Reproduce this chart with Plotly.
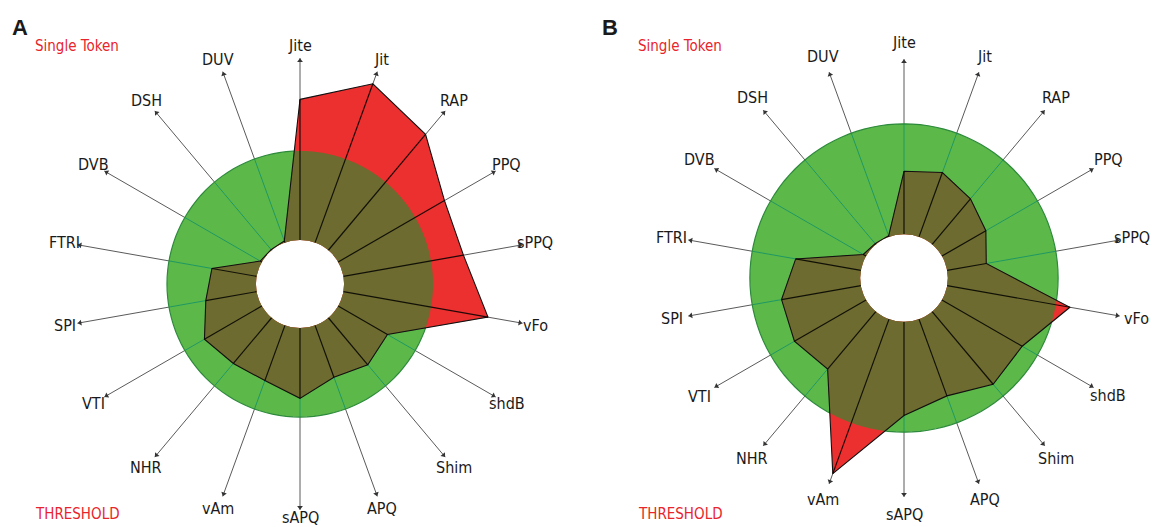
import numpy as np
import plotly.graph_objects as go

# ---------------- data ----------------
PARAMS = ["Jite", "Jit", "RAP", "PPQ", "sPPQ", "vFo", "shdB", "Shim", "APQ",
          "sAPQ", "vAm", "NHR", "VTI", "SPI", "FTRI", "DVB", "DSH", "DUV"]
ANGLES = [i * 20 for i in range(18)]
THRESHOLD = 1.0
VALUES_A = [1.58, 1.90, 1.70, 1.38, 1.37, 1.65, 0.64, 0.69, 0.62,
            0.79, 0.66, 0.67, 0.745, 0.58, 0.51, 0.02, 0.01, 0.02]
VALUES_B = [0.57, 0.62, 0.54, 0.46, 0.36, 1.13, 0.84, 0.86, 0.74,
            0.85, 1.49, 0.68, 0.75, 0.73, 0.60, 0.03, 0.01, 0.01]
PANEL_LETTERS = ["A", "B"]
TOP_LABEL = "Single Token"
BOTTOM_LABEL = "THRESHOLD"

# ---------------- style ----------------
W, H = 1154, 527
GREEN = "#5cb849"
GREEN_EDGE = "#2d8a3c"
TEAL = "#1e9a62"
RED = "#ec3030"
OLIVE = "#6d6b2f"
TXT_RED = "#e8242c"
FONT = "Liberation Sans Narrow, DejaVu Sans Condensed, Arial Narrow, sans-serif"
LABEL_SIZE = 16

PANELS = [
    dict(sub="polar", values=VALUES_A, hole=0.195, rmax=2.045,
         center=(300, 284), radius=226, label_r=239),
    dict(sub="polar2", values=VALUES_B, hole=0.2, rmax=1.588,
         center=(904, 278), radius=219, label_r=236),
]


def clipped_shape(values, hole, rmax, thr, n=40):
    """Intersection of the data polygon with the threshold disk, in data units."""
    t = np.radians(np.array(ANGLES + [ANGLES[0]], dtype=float))
    v = np.array(list(values) + [values[0]], dtype=float)
    s = hole + (1 - hole) * v / rmax
    x, y = s * np.sin(t), s * np.cos(t)
    s_thr = hole + (1 - hole) * thr / rmax
    rr, tt = [], []
    for i in range(len(values)):
        u = np.linspace(0, 1, n, endpoint=False)
        xs = x[i] + (x[i + 1] - x[i]) * u
        ys = y[i] + (y[i + 1] - y[i]) * u
        ss = np.clip(np.hypot(xs, ys), hole, s_thr)
        ang = np.degrees(np.arctan2(xs, ys)) % 360
        rr.extend(((ss - hole) / (1 - hole) * rmax).tolist())
        tt.extend(ang.tolist())
    rr.append(rr[0])
    tt.append(tt[0])
    return rr, tt


fig = go.Figure()
annotations = []

for p in PANELS:
    sub, vals, rmax = p["sub"], p["values"], p["rmax"]
    closed_r = list(vals) + [vals[0]]
    closed_t = ANGLES + [ANGLES[0]]

    # threshold disk
    fig.add_trace(go.Barpolar(
        r=[THRESHOLD] * len(ANGLES), theta=ANGLES, width=[20] * len(ANGLES),
        offset=0, marker=dict(color=GREEN, line=dict(width=0)),
        subplot=sub, showlegend=False, hoverinfo="skip"))
    # spokes inside the threshold disk
    sr, st = [], []
    for a in ANGLES:
        sr += [0, THRESHOLD, None]
        st += [a, a, None]
    fig.add_trace(go.Scatterpolar(
        r=sr, theta=st, mode="lines", line=dict(color=TEAL, width=1),
        subplot=sub, showlegend=False, hoverinfo="skip"))
    # threshold circle outline
    circ_t = list(range(0, 361, 3))
    fig.add_trace(go.Scatterpolar(
        r=[THRESHOLD] * len(circ_t), theta=circ_t, mode="lines",
        line=dict(color=GREEN_EDGE, width=1.2),
        subplot=sub, showlegend=False, hoverinfo="skip"))
    # data polygon (red where above threshold)
    fig.add_trace(go.Scatterpolar(
        r=closed_r, theta=closed_t, mode="lines", fill="toself",
        fillcolor=RED, line=dict(color=RED, width=0),
        subplot=sub, showlegend=False, hoverinfo="skip"))
    # part of polygon within threshold
    cr, ct = clipped_shape(vals, p["hole"], rmax, THRESHOLD)
    fig.add_trace(go.Scatterpolar(
        r=cr, theta=ct, mode="lines", fill="toself",
        fillcolor=OLIVE, line=dict(color=OLIVE, width=0),
        subplot=sub, showlegend=False, hoverinfo="skip"))
    # polygon outline
    fig.add_trace(go.Scatterpolar(
        r=closed_r, theta=closed_t, mode="lines",
        line=dict(color="#111111", width=1.1),
        subplot=sub, showlegend=False, hoverinfo="skip"))
    # data spokes
    dr, dt = [], []
    for a, v in zip(ANGLES, vals):
        dr += [0, v, None]
        dt += [a, a, None]
    fig.add_trace(go.Scatterpolar(
        r=dr, theta=dt, mode="lines", line=dict(color="rgba(0,0,0,0.85)", width=1.2),
        subplot=sub, showlegend=False, hoverinfo="skip"))
    # arrow heads at spoke tips
    fig.add_trace(go.Scatterpolar(
        r=[rmax * 0.985] * len(ANGLES), theta=ANGLES, mode="markers",
        marker=dict(symbol="triangle-up", size=5, color="#333333", angle=ANGLES),
        cliponaxis=False, subplot=sub, showlegend=False, hoverinfo="skip"))

    cx, cy = p["center"]
    R = p["radius"]
    fig.update_layout(**{sub: dict(
        bgcolor="rgba(0,0,0,0)",
        gridshape="circular",
        domain=dict(x=[(cx - R) / W, (cx + R) / W],
                    y=[1 - (cy + R) / H, 1 - (cy - R) / H]),
        hole=p["hole"],
        radialaxis=dict(range=[0, rmax], visible=False, showgrid=False),
        angularaxis=dict(
            rotation=90, direction="clockwise", thetaunit="degrees",
            tickmode="array", tickvals=ANGLES, ticktext=PARAMS,
            showticklabels=False, showline=False, ticks="", showgrid=True,
            gridcolor="#5a5a5a", gridwidth=1),
    )})

    # parameter names centred just beyond each spoke tip (kept inside the page)
    for a, name in zip(ANGLES, PARAMS):
        th = np.radians(a)
        half_w = 0.30 * LABEL_SIZE * len(name)
        lx = min(cx + p["label_r"] * np.sin(th), W - half_w - 3)
        ly = min(cy - p["label_r"] * np.cos(th), H - 10)
        annotations.append(dict(text=name, x=lx / W, y=1 - ly / H,
                                xref="paper", yref="paper",
                                xanchor="center", yanchor="middle", showarrow=False,
                                font=dict(family=FONT, size=LABEL_SIZE, color="#1a1a1a")))

for letter, x0 in zip(PANEL_LETTERS, [10, 600]):
    annotations.append(dict(text=f"<b>{letter}</b>", x=x0 / W, y=1 - 27 / H,
                            xref="paper", yref="paper", xanchor="left", yanchor="middle",
                            showarrow=False,
                            font=dict(family="Liberation Sans, Arial, sans-serif",
                                      size=22, color="#1a1a1a")))
for x0 in [33, 636]:
    annotations.append(dict(text=TOP_LABEL, x=x0 / W, y=1 - 46 / H, xref="paper", yref="paper",
                            xanchor="left", yanchor="middle", showarrow=False,
                            font=dict(family=FONT, size=15, color=TXT_RED)))
    annotations.append(dict(text=BOTTOM_LABEL, x=x0 / W, y=1 - 514 / H, xref="paper", yref="paper",
                            xanchor="left", yanchor="middle", showarrow=False,
                            font=dict(family=FONT, size=15, color=TXT_RED)))

fig.update_layout(
    width=W, height=H,
    margin=dict(l=0, r=0, t=0, b=0),
    paper_bgcolor="white", plot_bgcolor="white",
    annotations=annotations,
    showlegend=False,
)

fig.write_html("out.html",
               config={"displayModeBar": False},
               post_script="document.body.style.margin='0';"
                           "document.body.style.overflow='hidden';")
